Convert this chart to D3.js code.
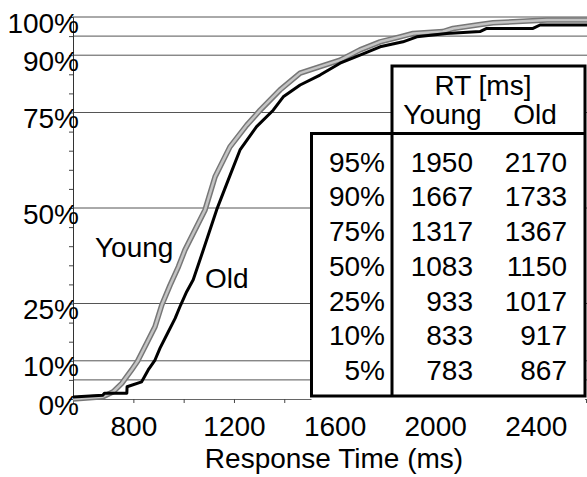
<!DOCTYPE html>
<html>
<head>
<meta charset="utf-8">
<script src="https://cdn.jsdelivr.net/npm/d3@7/dist/d3.min.js"></script>
<style>
  html, body { margin: 0; padding: 0; background: #fff; }
  svg { display: block; }
  text { font-family: "Liberation Sans", Arial, Helvetica, sans-serif; fill: #000; }
</style>
</head>
<body>
<svg id="chart" width="587" height="477"></svg>
<script>
// Cumulative response-time distributions (proportion of responses <= RT)
const youngRT  = [560, 679, 720, 754, 793, 816, 853, 886, 913, 946, 979, 1005, 1085, 1125, 1184, 1251, 1304, 1383, 1463, 1542, 1622, 1701, 1781, 1860, 1912, 2031, 2071, 2166, 2230, 2445, 2616];
const youngPct = [0, 0.6, 1.9, 4.1, 7.6, 9.8, 14.6, 18.9, 24.6, 29.8, 34.6, 39, 49.5, 58.2, 66, 71.7, 75.6, 80.9, 85.3, 87, 88.7, 91.4, 93.5, 94.8, 95.7, 96.2, 97, 97.9, 98.5, 99.2, 99.2];

const oldRT  = [560, 679, 685, 774, 775, 833, 859, 886, 906, 939, 966, 988, 1012, 1038, 1078, 1131, 1177, 1224, 1290, 1356, 1396, 1463, 1542, 1622, 1701, 1781, 1872, 1927, 2046, 2178, 2205, 2389, 2417, 2616];
const oldPct = [0.5, 1.0, 1.5, 1.5, 3.2, 4.5, 7.6, 10.2, 13.3, 17.6, 21.1, 24.6, 28.1, 31.2, 39, 49.5, 57.3, 65.2, 71.3, 75.6, 79.1, 82.2, 84.8, 87.9, 90, 92.2, 93.5, 94.8, 95.7, 96.2, 97, 97, 97.9, 97.9];

// Axis ticks
const rtTicks     = [800, 1000, 1200, 1400, 1600, 1800, 2000, 2200, 2400, 2600];
const rtLabels    = [800, 1200, 1600, 2000, 2400];
const pctTicks    = [0, 5, 10, 15, 20, 25, 30, 35, 40, 45, 50, 55, 60, 65, 70, 75, 80, 85, 90, 95, 100];
const pctLabels   = [0, 10, 25, 50, 75, 90, 100];
const pctGrid     = [5, 10, 25, 50, 75, 90, 95, 100];

// Percentile table
const tableQuantiles = ["95%", "90%", "75%", "50%", "25%", "10%", "5%"];
const tableYoung     = [1950, 1667, 1317, 1083, 933, 833, 783];
const tableOld       = [2170, 1733, 1367, 1150, 1017, 917, 867];

const svg = d3.select("#chart");
const FONT = 28;

const x = d3.scaleLinear().domain([560, 2620]).range([73, 591.1]);
const y = d3.scaleLinear().domain([0, 100]).range([399, 17]);

// horizontal reference lines
svg.append("g")
  .selectAll("line")
  .data(pctGrid)
  .join("line")
  .attr("x1", 73).attr("x2", 587)
  .attr("y1", d => y(d)).attr("y2", d => y(d))
  .attr("stroke", "#555").attr("stroke-width", 1);

// x axis
const xAxis = svg.append("g")
  .attr("transform", `translate(0,${y(0)})`)
  .call(d3.axisBottom(x)
    .tickValues(rtTicks)
    .tickSize(4)
    .tickPadding(13)
    .tickFormat(d => rtLabels.includes(d) ? d : ""));
xAxis.select(".domain").attr("stroke", "#666").attr("stroke-width", 1);
xAxis.selectAll(".tick line").attr("stroke", "#444");
xAxis.selectAll(".tick text").attr("font-size", FONT).attr("font-family", null);

// y axis
const yAxis = svg.append("g")
  .attr("transform", `translate(${x(560)},0)`)
  .call(d3.axisLeft(y)
    .tickValues(pctTicks)
    .tickSize(4)
    .tickPadding(0)
    .tickFormat(d => pctLabels.includes(d) ? d + "%" : ""));
yAxis.select(".domain").attr("stroke", "#333").attr("stroke-width", 1);
yAxis.selectAll(".tick line").attr("stroke", "#444");
yAxis.selectAll(".tick text")
  .attr("font-size", FONT).attr("font-family", null)
  .attr("x", 6).attr("dy", "0.54em");

// curves
const line = d3.line().x(d => x(d[0])).y(d => y(d[1]));
const youngData = youngRT.map((r, i) => [r, youngPct[i]]);
const oldData   = oldRT.map((r, i) => [r, oldPct[i]]);

const curves = svg.append("g");
curves.append("path").datum(youngData).attr("d", line)
  .attr("fill", "none").attr("stroke", "#777").attr("stroke-width", 5.5)
  .attr("stroke-linejoin", "round");
curves.append("path").datum(youngData).attr("d", line)
  .attr("fill", "none").attr("stroke", "#c4c4c4").attr("stroke-width", 2.5)
  .attr("stroke-linejoin", "round");
curves.append("path").datum(oldData).attr("d", line)
  .attr("fill", "none").attr("stroke", "#000").attr("stroke-width", 3)
  .attr("stroke-linejoin", "round");

// curve labels
svg.append("text").attr("x", 95).attr("y", 257).attr("font-size", FONT).text("Young");
svg.append("text").attr("x", 205).attr("y", 288).attr("font-size", FONT).text("Old");

// percentile table
const tbl = svg.append("g");
const tLeft = 311.5, tDiv = 392, tRight = 585, tHead = 66, tTop = 133.5, tBottom = 396;
tbl.append("rect").attr("x", tDiv).attr("y", tHead).attr("width", tRight - tDiv).attr("height", tTop - tHead)
  .attr("fill", "#fff");
tbl.append("rect").attr("x", tLeft).attr("y", tTop).attr("width", tRight - tLeft).attr("height", 408 - tTop)
  .attr("fill", "#fff");
tbl.append("path")
  .attr("d", `M${tDiv},${tTop}V${tHead}H${tRight}V${tBottom}H${tLeft}V${tTop}H${tRight}M${tDiv},${tTop}V${tBottom}`)
  .attr("fill", "none").attr("stroke", "#000").attr("stroke-width", 3);

tbl.append("text").attr("x", 483).attr("y", 95).attr("text-anchor", "middle").attr("font-size", FONT).text("RT [ms]");
tbl.append("text").attr("x", 442.5).attr("y", 124).attr("text-anchor", "middle").attr("font-size", FONT).text("Young");
tbl.append("text").attr("x", 535).attr("y", 124).attr("text-anchor", "middle").attr("font-size", FONT).text("Old");

const rowY = i => 171.7 + i * 34.7;
tbl.selectAll("text.q").data(tableQuantiles).join("text").attr("class", "q")
  .attr("x", 385).attr("y", (d, i) => rowY(i)).attr("text-anchor", "end").attr("font-size", FONT).text(d => d);
tbl.selectAll("text.yv").data(tableYoung).join("text").attr("class", "yv")
  .attr("x", 473).attr("y", (d, i) => rowY(i)).attr("text-anchor", "end").attr("font-size", FONT).text(d => d);
tbl.selectAll("text.ov").data(tableOld).join("text").attr("class", "ov")
  .attr("x", 567).attr("y", (d, i) => rowY(i)).attr("text-anchor", "end").attr("font-size", FONT).text(d => d);

// axis title
svg.append("text").attr("x", 334).attr("y", 467.5).attr("text-anchor", "middle").attr("font-size", FONT)
  .text("Response Time (ms)");
</script>
</body>
</html>
